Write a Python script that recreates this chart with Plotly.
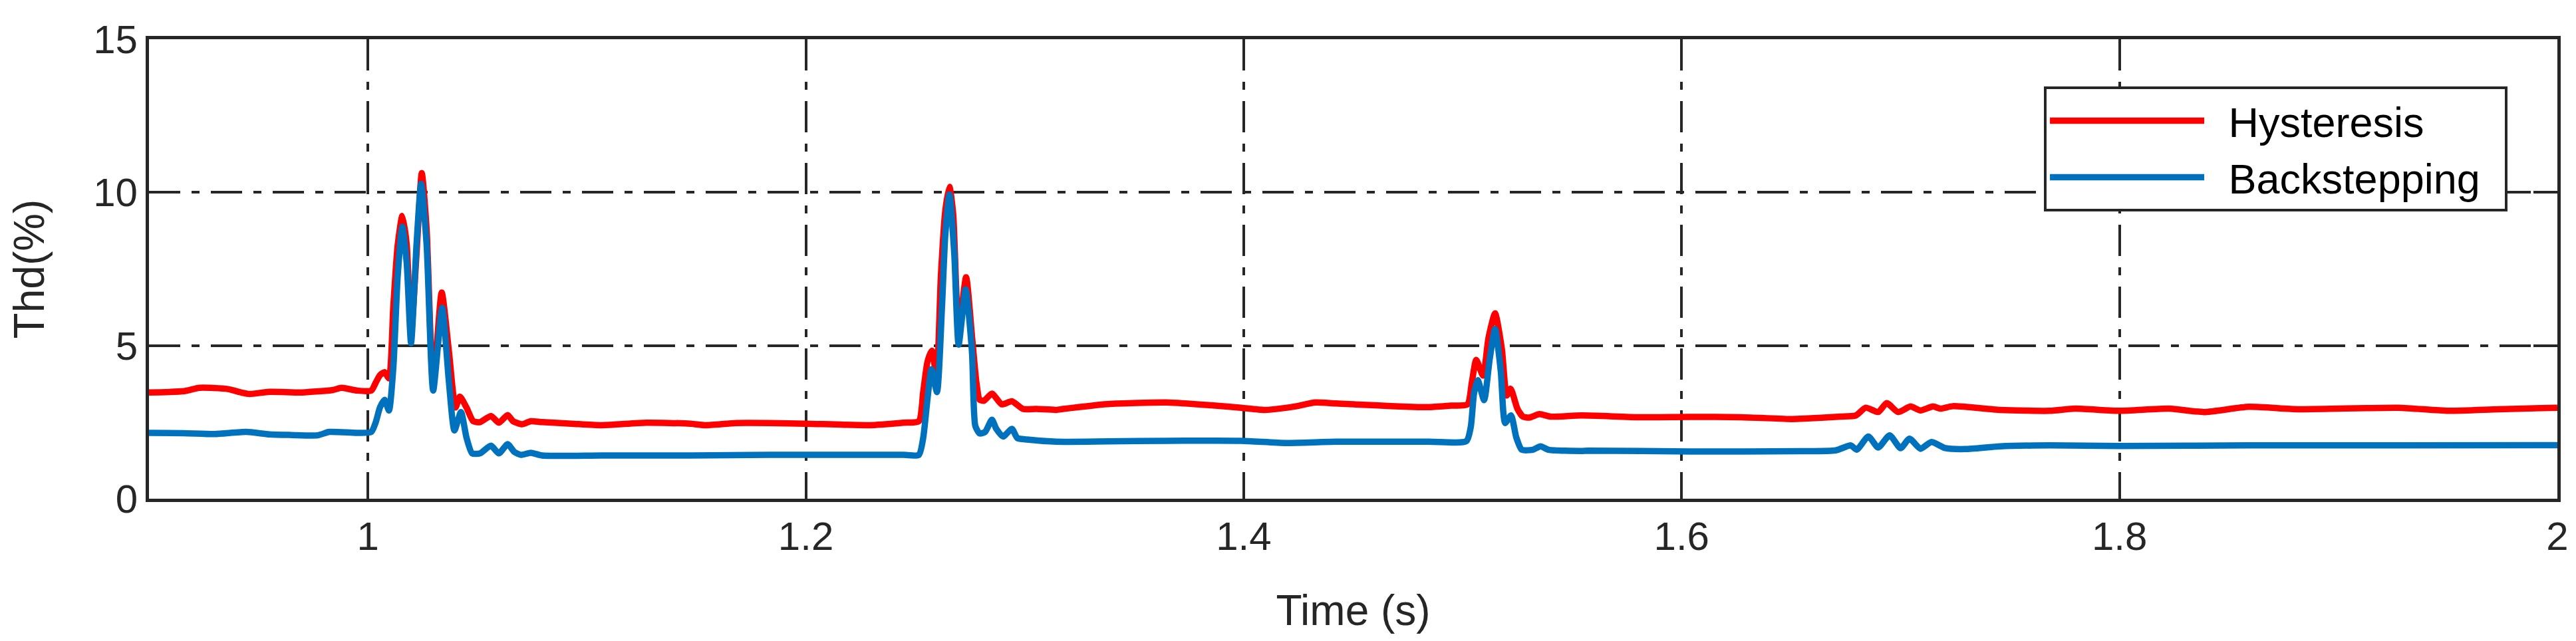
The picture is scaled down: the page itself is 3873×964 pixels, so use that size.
import plotly.graph_objects as go

# ---------------- data ----------------
time_hyst = [0.900, 0.916, 0.923, 0.936, 0.942, 0.946, 0.955, 0.970, 0.984, 0.988, 0.995,
             1.0015, 1.0035, 1.0055, 1.0076, 1.0096, 1.0116, 1.0136, 1.0157, 1.0177, 1.0197,
             1.0222, 1.0246, 1.0268, 1.0298, 1.0337, 1.0370, 1.0400, 1.0420, 1.0450, 1.0481,
             1.0512, 1.0562, 1.0598, 1.0638, 1.0663, 1.0704, 1.0744, 1.0796, 1.093, 1.1067,
             1.127, 1.1474, 1.154, 1.168, 1.1837, 1.200, 1.2293, 1.2445, 1.2516, 1.2536,
             1.2556, 1.2576, 1.2597, 1.2617, 1.2637, 1.2656, 1.2673, 1.2698, 1.2732, 1.2759,
             1.2779, 1.2794, 1.2814, 1.2850, 1.2895, 1.2941, 1.2992, 1.3053, 1.3144, 1.3175,
             1.3378, 1.3649, 1.3852, 1.3988, 1.4097, 1.4232, 1.4327, 1.4419, 1.460, 1.475,
             1.4845, 1.4946, 1.5022, 1.5042, 1.5062, 1.5093, 1.5118, 1.5148, 1.5179, 1.5201,
             1.5219, 1.5250, 1.5275, 1.5305, 1.5351, 1.5401, 1.5543, 1.5805, 1.6038, 1.6271,
             1.6503, 1.6546, 1.6728, 1.6796, 1.6841, 1.6898, 1.6937, 1.6989, 1.7046, 1.7091,
             1.7148, 1.7182, 1.7239, 1.7455, 1.7682, 1.7796, 1.800, 1.8227, 1.8386, 1.859,
             1.8818, 1.9273, 1.950, 1.973, 2.000]
thd_hyst = [3.47, 3.51, 3.62, 3.58, 3.47, 3.42, 3.49, 3.47, 3.55, 3.62, 3.53,
            3.53, 3.78, 4.03, 4.13, 3.93, 6.28, 8.28, 9.23, 8.30, 5.40,
            8.00, 10.63, 8.80, 3.70, 6.73, 4.80, 2.98, 3.33, 2.98, 2.53,
            2.50, 2.70, 2.48, 2.73, 2.53, 2.43, 2.53, 2.50, 2.45, 2.40,
            2.48, 2.45, 2.40, 2.47, 2.47, 2.45, 2.40, 2.48, 2.53, 3.48,
            4.48, 4.83, 4.00, 7.28, 9.40, 10.18, 9.30, 5.50, 7.23, 5.30,
            3.80, 3.23, 3.20, 3.43, 3.08, 3.18, 2.93, 2.93, 2.90, 2.93,
            3.09, 3.14, 3.05, 2.97, 2.90, 3.01, 3.14, 3.11, 3.05, 3.00,
            2.99, 3.04, 3.08, 3.80, 4.53, 4.02, 5.25, 6.05, 4.89, 3.37,
            3.59, 2.94, 2.68, 2.65, 2.76, 2.68, 2.72, 2.66, 2.67, 2.66,
            2.60, 2.61, 2.68, 2.72, 2.97, 2.83, 3.12, 2.83, 3.01, 2.88,
            3.01, 2.94, 3.02, 2.90, 2.87, 2.94, 2.87, 2.94, 2.83, 3.00,
            2.92, 2.97, 2.87, 2.92, 2.97]

time_back = [0.900, 0.916, 0.930, 0.9445, 0.955, 0.965, 0.9771, 0.9823, 0.995,
             1.0015, 1.0035, 1.0055, 1.0076, 1.0096, 1.0116, 1.0136, 1.0157, 1.0177, 1.0197,
             1.0222, 1.0243, 1.0268, 1.0298, 1.0339, 1.0370, 1.0395, 1.0425, 1.0450, 1.0476,
             1.0512, 1.0562, 1.0598, 1.0638, 1.0668, 1.0699, 1.0744, 1.0796, 1.1067, 1.1474,
             1.1837, 1.2293, 1.2445, 1.2516, 1.2536, 1.2556, 1.2574, 1.2599, 1.2622, 1.2637,
             1.2656, 1.2678, 1.2698, 1.2730, 1.2759, 1.2774, 1.2794, 1.2819, 1.2850, 1.2870,
             1.2901, 1.2941, 1.2966, 1.3011, 1.3144, 1.3378, 1.3649, 1.3988, 1.4192, 1.4419,
             1.4845, 1.5017, 1.5037, 1.5052, 1.5069, 1.5098, 1.5123, 1.5148, 1.5174, 1.5194,
             1.5221, 1.5245, 1.5270, 1.5321, 1.5356, 1.5392, 1.5543, 1.5573, 1.6038, 1.6546,
             1.6705, 1.6773, 1.6800, 1.6853, 1.6898, 1.6950, 1.7000, 1.7041, 1.7091, 1.7141,
             1.7205, 1.7296, 1.7455, 1.7682, 1.800, 1.859, 1.9273, 2.000]
thd_back = [2.15, 2.14, 2.11, 2.18, 2.10, 2.08, 2.07, 2.18, 2.15,
            2.18, 2.48, 2.98, 3.23, 2.88, 4.28, 7.28, 8.88, 7.70, 5.08,
            8.30, 10.28, 8.30, 3.53, 6.23, 3.80, 2.23, 2.83, 2.00, 1.48,
            1.48, 1.73, 1.48, 1.78, 1.53, 1.43, 1.50, 1.41, 1.41, 1.41,
            1.43, 1.43, 1.43, 1.43, 1.98, 3.28, 4.23, 3.48, 6.28, 8.60,
            9.93, 8.00, 5.03, 6.83, 4.78, 2.38, 2.13, 2.18, 2.58, 2.28,
            2.03, 2.28, 1.98, 1.93, 1.86, 1.87, 1.89, 1.89, 1.82, 1.86,
            1.86, 1.88, 2.34, 3.44, 3.87, 3.22, 4.53, 5.54, 4.17, 2.47,
            2.72, 2.00, 1.60, 1.60, 1.71, 1.60, 1.56, 1.57, 1.54, 1.55,
            1.58, 1.74, 1.60, 2.03, 1.67, 2.07, 1.65, 1.96, 1.63, 1.85,
            1.65, 1.62, 1.71, 1.74, 1.72, 1.74, 1.74, 1.75]

x_tick_vals = [1.0, 1.2, 1.4, 1.6, 1.8, 2.0]
x_tick_text = ["1", "1.2", "1.4", "1.6", "1.8", "2"]
y_tick_vals = [0, 5, 10, 15]
y_tick_text = ["0", "5", "10", "15"]
series_names = ["Hysteresis", "Backstepping"]
x_label = "Time (s)"
y_label = "Thd(%)"

# ---------------- style ----------------
INK = "#262626"
RED = "#FF0000"
BLUE = "#0072BD"
GRID_DASH = "47px,17px,12px,17px"
FONT = "Liberation Sans, Arial, Helvetica, sans-serif"
PAD = "\u2002"  # en-space: visual gap around legend labels


def legend_label(name):
    return PAD + name + PAD


fig = go.Figure()
fig.add_trace(go.Scatter(
    x=time_hyst, y=thd_hyst, mode="lines", name=legend_label(series_names[0]), legendgroup="a",
    line=dict(color=RED, width=9.5, shape="spline", smoothing=0.6)))
fig.add_trace(go.Scatter(
    x=time_back, y=thd_back, mode="lines", name=legend_label(series_names[1]), legendgroup="b",
    line=dict(color=BLUE, width=9.5, shape="spline", smoothing=0.6)))

axis_common = dict(
    showline=True, linecolor=INK, linewidth=5, mirror="allticks",
    ticks="inside", ticklen=36, tickwidth=4, tickcolor=INK,
    showgrid=True, gridcolor=INK, gridwidth=4, griddash=GRID_DASH,
    zeroline=False, tickfont=dict(family=FONT, size=60, color=INK),
)

fig.update_xaxes(range=[0.9, 2.0], tickmode="array", tickvals=x_tick_vals, ticktext=x_tick_text,
                 title=dict(text=x_label, font=dict(family=FONT, size=64, color=INK), standoff=58),
                 **axis_common)
fig.update_yaxes(range=[0, 15], tickmode="array", tickvals=y_tick_vals, ticktext=y_tick_text,
                 title=dict(text=y_label, font=dict(family=FONT, size=64, color=INK), standoff=55),
                 **axis_common)

fig.update_layout(
    width=3873, height=964,
    margin=dict(l=216, r=36, t=51, b=222),
    plot_bgcolor="white", paper_bgcolor="white",
    font=dict(family=FONT, size=60, color=INK),
    showlegend=True,
    legend=dict(x=0.9793, y=0.897, xanchor="right", yanchor="top",
                bgcolor="white", bordercolor=INK, borderwidth=4,
                font=dict(family=FONT, size=63, color="black"),
                itemwidth=232, tracegroupgap=22, traceorder="normal"),
)

fig.write_html("out.html")
